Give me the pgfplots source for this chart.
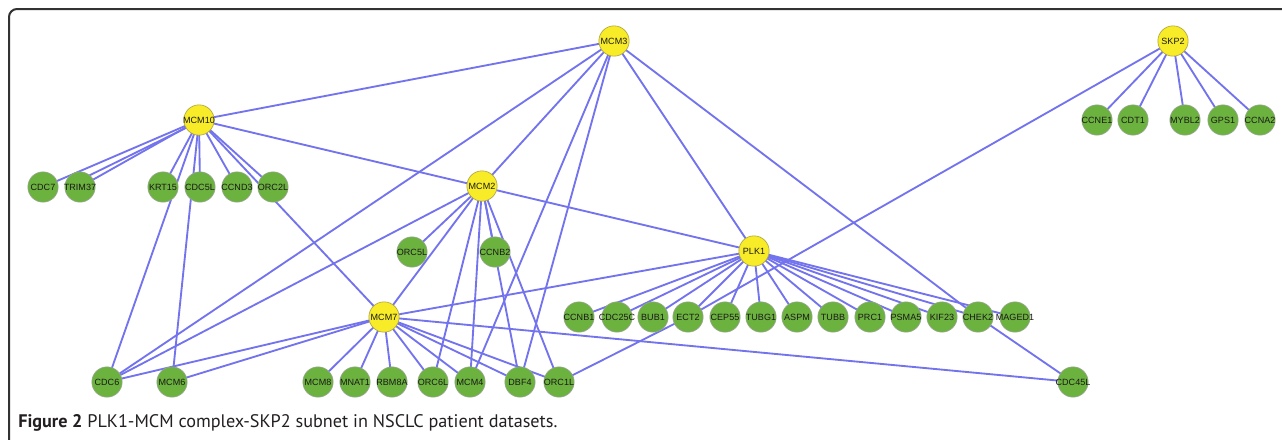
\documentclass[border=0pt]{standalone}
\usepackage{fontspec}
\setmainfont{Liberation Sans}
\newfontfamily\capfont{PT Sans}
\usepackage{pgfplots}
\pgfplotsset{compat=1.18}
\definecolor{edgeblue}{RGB}{115,115,238}
\definecolor{nodegreen}{RGB}{108,178,62}
\definecolor{greenborder}{RGB}{150,165,140}
\definecolor{nodeyellow}{RGB}{248,236,40}
\definecolor{yellowborder}{RGB}{175,165,70}
\definecolor{frameg}{RGB}{50,50,50}
% node positions (pixel coordinates, y downwards)
\newcommand\N[3]{\expandafter\def\csname pos-#1\endcsname{#2,#3}}
\N{MCM3}{614}{41}
\N{SKP2}{1173}{41}
\N{MCM10}{199}{120}
\N{MCM2}{482}{186}
\N{PLK1}{754}{251}
\N{MCM7}{384}{317}
\N{CDC7}{43}{187}
\N{TRIM37}{80}{187}
\N{KRT15}{163}{187}
\N{CDC5L}{200}{187}
\N{CCND3}{237}{187}
\N{ORC2L}{273}{187}
\N{ORC5L}{412}{252}
\N{CCNB2}{495}{252}
\N{CCNE1}{1097}{120}
\N{CDT1}{1133}{120}
\N{MYBL2}{1185}{120}
\N{GPS1}{1223}{120}
\N{CCNA2}{1260}{120}
\N{CCNB1}{579}{317}
\N{CDC25C}{617}{317}
\N{BUB1}{653}{317}
\N{ECT2}{688}{317}
\N{CEP55}{725}{317}
\N{TUBG1}{761}{317}
\N{ASPM}{797}{317}
\N{TUBB}{833}{317}
\N{PRC1}{870}{317}
\N{PSMA5}{906}{317}
\N{KIF23}{942}{317}
\N{CHEK2}{978}{317}
\N{MAGED1}{1015}{317}
\N{CDC6}{107}{382}
\N{MCM6}{172}{382}
\N{MCM8}{318}{382}
\N{MNAT1}{355}{382}
\N{RBM8A}{392}{382}
\N{ORC6L}{433}{382}
\N{MCM4}{470}{382}
\N{DBF4}{520}{382}
\N{ORC1L}{559}{382}
\N{CDC45L}{1073}{382}
\pgfplotsset{
  edge/.style={draw=edgeblue, line width=1.4pt, mark=none, forget plot},
  gene/.style={only marks, mark=*, mark size=11.4pt, forget plot,
    nodes near coords, point meta=explicit symbolic,
    every node near coord/.append style={anchor=center, inner sep=0pt,
      font=\fontsize{6.8}{7}\selectfont, text=black!90}},
  ynode/.style={gene, mark options={fill=nodeyellow, draw=yellowborder, line width=0.5pt}},
  gnode/.style={gene, mark options={fill=nodegreen, draw=greenborder, line width=0.5pt}},
}
\newcommand\E[2]{\edef\tmp{\noexpand\addplot[edge] coordinates {(\csname pos-#1\endcsname) (\csname pos-#2\endcsname)};}\tmp}
\newcommand\Y[1]{\edef\tmp{\noexpand\addplot[ynode] coordinates {(\csname pos-#1\endcsname) [#1]};}\tmp}
\newcommand\G[1]{\edef\tmp{\noexpand\addplot[gnode] coordinates {(\csname pos-#1\endcsname) [#1]};}\tmp}
\begin{document}
\begin{tikzpicture}
\begin{axis}[scale only axis, width=961.5bp, height=330bp,
  xmin=0, xmax=1282, ymin=0, ymax=440, y dir=reverse,
  hide axis, clip=false]
% frame
\draw[line width=1.5bp, frameg, rounded corners=6bp] (axis cs:9,441) -- (axis cs:9,9) -- (axis cs:1283,9);
% edges
\E{MCM3}{MCM10}\E{MCM3}{CDC6}\E{MCM3}{MCM2}\E{MCM3}{MCM4}\E{MCM3}{DBF4}\E{MCM3}{PLK1}\E{MCM3}{CHEK2}
\E{CHEK2}{CDC45L}
\E{SKP2}{CCNE1}\E{SKP2}{CDT1}\E{SKP2}{MYBL2}\E{SKP2}{GPS1}\E{SKP2}{CCNA2}\E{SKP2}{ECT2}
\E{ECT2}{ORC1L}
\E{MCM10}{CDC7}\E{MCM10}{TRIM37}\E{MCM10}{KRT15}\E{MCM10}{CDC5L}\E{MCM10}{CCND3}\E{MCM10}{ORC2L}
\E{MCM10}{MCM7}\E{MCM10}{CDC6}\E{MCM10}{MCM6}\E{MCM10}{PLK1}
\addplot[edge] coordinates {(196,123) (76,182)};
\E{MCM2}{ORC5L}\E{MCM2}{CCNB2}\E{MCM2}{CDC6}\E{MCM2}{MCM7}\E{MCM2}{ORC6L}\E{MCM2}{MCM4}\E{MCM2}{DBF4}\E{MCM2}{ORC1L}
\E{PLK1}{CCNB1}\E{PLK1}{CDC25C}\E{PLK1}{BUB1}\E{PLK1}{ECT2}\E{PLK1}{CEP55}\E{PLK1}{TUBG1}\E{PLK1}{ASPM}
\E{PLK1}{TUBB}\E{PLK1}{PRC1}\E{PLK1}{PSMA5}\E{PLK1}{KIF23}\E{PLK1}{CHEK2}\E{PLK1}{MAGED1}\E{PLK1}{MCM7}
\E{MCM7}{CDC6}\E{MCM7}{MCM6}\E{MCM7}{MCM8}\E{MCM7}{MNAT1}\E{MCM7}{RBM8A}\E{MCM7}{ORC6L}\E{MCM7}{MCM4}
\E{MCM7}{DBF4}\E{MCM7}{ORC1L}\E{MCM7}{CDC45L}
% nodes
\G{CDC7}\G{TRIM37}\G{KRT15}\G{CDC5L}\G{CCND3}\G{ORC2L}\G{ORC5L}\G{CCNB2}
\G{CCNE1}\G{CDT1}\G{MYBL2}\G{GPS1}\G{CCNA2}
\G{CCNB1}\G{CDC25C}\G{BUB1}\G{ECT2}\G{CEP55}\G{TUBG1}\G{ASPM}\G{TUBB}\G{PRC1}\G{PSMA5}\G{KIF23}\G{CHEK2}\G{MAGED1}
\G{CDC6}\G{MCM6}\G{MCM8}\G{MNAT1}\G{RBM8A}\G{ORC6L}\G{MCM4}\G{DBF4}\G{ORC1L}\G{CDC45L}
\Y{MCM3}\Y{SKP2}\Y{MCM10}\Y{MCM2}\Y{PLK1}\Y{MCM7}
% caption
\node[anchor=base west, inner sep=0pt, text={rgb,255:red,35;green,31;blue,32},
  font=\capfont\fontsize{13.7}{16}\selectfont] at (axis cs:18,427)
  {\textbf{Figure 2} PLK1-MCM complex-SKP2 subnet in NSCLC patient datasets.};
\end{axis}
\pgfresetboundingbox
\path[use as bounding box] (0,0) rectangle (961.5bp,330bp);
\end{tikzpicture}
\end{document}
